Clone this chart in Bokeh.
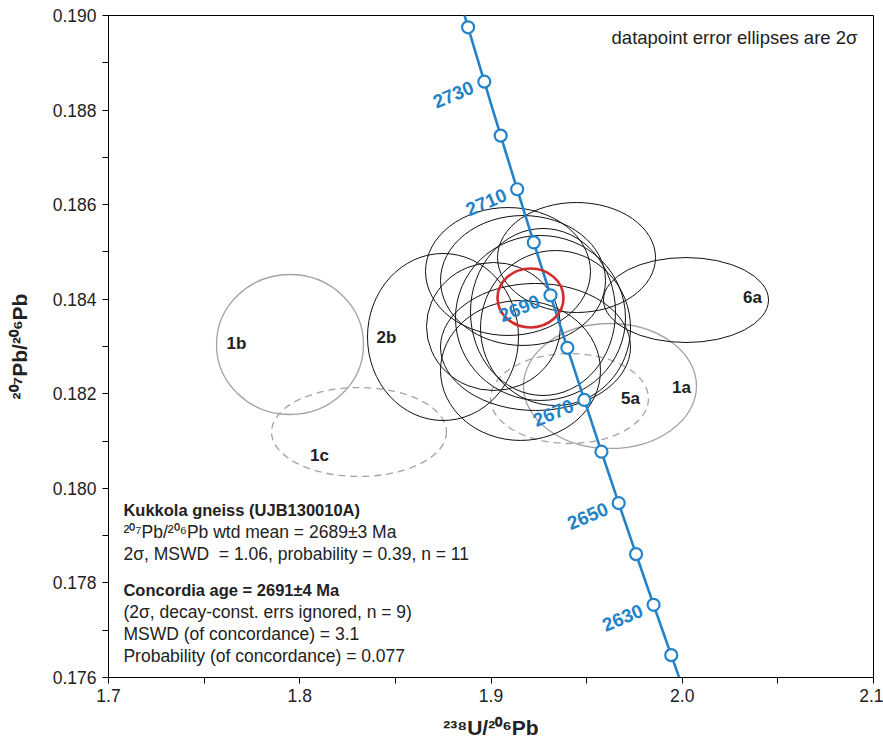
import numpy as np
from bokeh.plotting import figure
from bokeh.models import FixedTicker, Range1d, NumeralTickFormatter
from bokeh.core.properties import value
from bokeh.embed import file_html
from bokeh.resources import INLINE

# ---------------- data ----------------
# Tera-Wasserburg concordia (decay constants, per year)
LAMBDA_238 = 1.55125e-10
LAMBDA_235 = 9.8485e-10
U238_U235 = 137.88

marker_ages = [2620, 2630, 2640, 2650, 2660, 2670, 2680, 2690, 2700, 2710, 2720, 2730, 2740]
label_ages = [2630, 2650, 2670, 2690, 2710, 2730]
curve_age_min, curve_age_max = 2600, 2760

# datapoint error ellipses (x = 238U/206Pb, y = 207Pb/206Pb, 2-sigma full widths)
main_x = [1.94471, 1.90889, 1.91673, 1.92719, 1.92588, 1.90131, 1.92327, 1.91542, 1.93373]
main_y = [0.184882, 0.184586, 0.184396, 0.183730, 0.183603, 0.183423, 0.182990, 0.182493, 0.183391]
main_w = [0.08261, 0.08627, 0.08627, 0.07582, 0.08889, 0.07007, 0.09935, 0.08366, 0.07843]
main_h = [0.002326, 0.002707, 0.002749, 0.003532, 0.003489, 0.002707, 0.002686, 0.002961, 0.003278]

lab_black_names = ["2b", "6a"]
lab_black_x = [1.87490, 2.00196]
lab_black_y = [0.183201, 0.183983]
lab_black_w = [0.07895, 0.08627]
lab_black_h = [0.003532, 0.001798]

grey_solid_names = ["1b", "1a"]
grey_solid_x = [1.79490, 1.96222]
grey_solid_y = [0.183042, 0.182165]
grey_solid_w = [0.07686, 0.09046]
grey_solid_h = [0.002961, 0.002643]

grey_dash_names = ["1c", "5a"]
grey_dash_x = [1.83098, 1.94105]
grey_dash_y = [0.181192, 0.181900]
grey_dash_w = [0.09150, 0.08261]
grey_dash_h = [0.001882, 0.001903]

conc_x, conc_y, conc_w, conc_h = 1.92065, 0.184026, 0.03451, 0.001248

name_labels = ["1b", "2b", "1c", "5a", "1a", "6a"]
name_label_x = [1.76693, 1.84536, 1.81033, 1.97294, 1.99961, 2.03673]
name_label_y = [0.183063, 0.183190, 0.180695, 0.181900, 0.182133, 0.184036]

x_ticks = [1.7, 1.8, 1.9, 2.0, 2.1]
x_minor = [1.75, 1.85, 1.95, 2.05]
y_ticks = [0.176, 0.178, 0.180, 0.182, 0.184, 0.186, 0.188, 0.190]
y_minor = [0.177, 0.179, 0.181, 0.183, 0.185, 0.187, 0.189]

info_lines = [
    "Kukkola gneiss (UJB130010A)",
    "\u00b2\u2070\u2077Pb/\u00b2\u2070\u2076Pb wtd mean = 2689\u00b13 Ma",
    "2\u03c3, MSWD \u00a0= 1.06, probability = 0.39, n = 11",
    "Concordia age = 2691\u00b14 Ma",
    "(2\u03c3, decay-const. errs ignored, n = 9)",
    "MSWD (of concordance) = 3.1",
    "Probability (of concordance) = 0.077",
]
info_bold = [True, False, False, True, False, False, False]
info_line_offsets = [0, 22, 44, 80, 102.5, 124.5, 146]
info_x, info_y = 1.7078, 0.17955

note_text = "datapoint error ellipses are 2\u03c3"
note_x, note_y = 2.0916, 0.189535


def concordia(ages_ma):
    t = np.asarray(ages_ma, dtype=float) * 1e6
    e238 = np.exp(LAMBDA_238 * t) - 1.0
    e235 = np.exp(LAMBDA_235 * t) - 1.0
    return 1.0 / e238, e235 / e238 / U238_U235


# ---------------- figure ----------------
FONT = "Liberation Sans"
BLUE = "#2483c8"

p = figure(frame_width=765, frame_height=662,
           x_range=Range1d(1.7, 2.1), y_range=Range1d(0.176, 0.190),
           output_backend="svg", toolbar_location=None,
           min_border_left=108, min_border_right=10, min_border_top=15, min_border_bottom=61)
p.grid.visible = False
p.outline_line_color = "black"
p.outline_line_width = 1
p.background_fill_color = "white"
p.border_fill_color = "white"

for ax, ticks, minor, fmt in [(p.xaxis, x_ticks, x_minor, "0.0"), (p.yaxis, y_ticks, y_minor, "0.000")]:
    ax.ticker = FixedTicker(ticks=ticks, minor_ticks=minor)
    ax.formatter = NumeralTickFormatter(format=fmt)
    ax.major_tick_in = 0
    ax.major_tick_out = 6
    ax.minor_tick_in = 0
    ax.minor_tick_out = 6
    ax.axis_line_color = "black"
    ax.major_tick_line_color = "black"
    ax.minor_tick_line_color = "black"
    ax.major_label_text_font = FONT
    ax.major_label_text_font_size = "17.5px"
    ax.major_label_text_color = "#222222"
    ax.axis_label_text_font = FONT
    ax.axis_label_text_font_style = "bold"
    ax.axis_label_text_font_size = "21px"
    ax.axis_label_text_color = "#222222"

p.xaxis.axis_label = "\u00b2\u00b3\u2078U/\u00b2\u2070\u2076Pb"
p.yaxis.axis_label = "\u00b2\u2070\u2077Pb/\u00b2\u2070\u2076Pb"
p.xaxis.axis_label_standoff = 11
p.yaxis.axis_label_standoff = 19
p.yaxis.major_label_standoff = 6

# grey (excluded) ellipses
p.ellipse(x=grey_solid_x, y=grey_solid_y, width=grey_solid_w, height=grey_solid_h,
          fill_color=None, line_color="#a3a3a3", line_width=1.3)
p.ellipse(x=grey_dash_x, y=grey_dash_y, width=grey_dash_w, height=grey_dash_h,
          fill_color=None, line_color="#a3a3a3", line_width=1.3, line_dash="7 5")

# black ellipses
p.ellipse(x=main_x, y=main_y, width=main_w, height=main_h,
          fill_color=None, line_color="#111111", line_width=1)
p.ellipse(x=lab_black_x, y=lab_black_y, width=lab_black_w, height=lab_black_h,
          fill_color=None, line_color="#111111", line_width=1)

# concordia curve
cx, cy = concordia(np.arange(curve_age_min, curve_age_max + 1, 1))
p.line(cx, cy, line_color=BLUE, line_width=2.6)

# concordia age ellipse
p.ellipse(x=[conc_x], y=[conc_y], width=[conc_w], height=[conc_h],
          fill_color=None, line_color="#d32a2a", line_width=2.6)

mx, my = concordia(marker_ages)
p.scatter(mx, my, size=12, marker="circle", fill_color="white", line_color=BLUE, line_width=2.2)

lx, ly = concordia(label_ages)
p.text(x=lx, y=ly, text=[str(a) for a in label_ages], angle=0.40,
       x_offset=-31, y_offset=13, text_align="center", text_baseline="middle",
       text_font=value(FONT), text_font_style="bold", text_font_size="19px", text_color=BLUE)

# ellipse name labels
p.text(x=name_label_x, y=name_label_y, text=name_labels, text_align="center", text_baseline="middle",
       text_font=value(FONT), text_font_style="bold", text_font_size="17px", text_color="#222222")

# note
p.text(x=[note_x], y=[note_y], text=[note_text], text_align="right", text_baseline="middle",
       text_font=value(FONT), text_font_size="18.5px", text_color="#222222")

# info block
for line, bold, off in zip(info_lines, info_bold, info_line_offsets):
    p.text(x=[info_x], y=[info_y], text=[line], y_offset=off, text_align="left", text_baseline="middle",
           text_font=value(FONT), text_font_style="bold" if bold else "normal",
           text_font_size="16.5px" if bold else "17.5px", text_color="#222222")

open("out.html", "w").write(file_html(p, INLINE))
